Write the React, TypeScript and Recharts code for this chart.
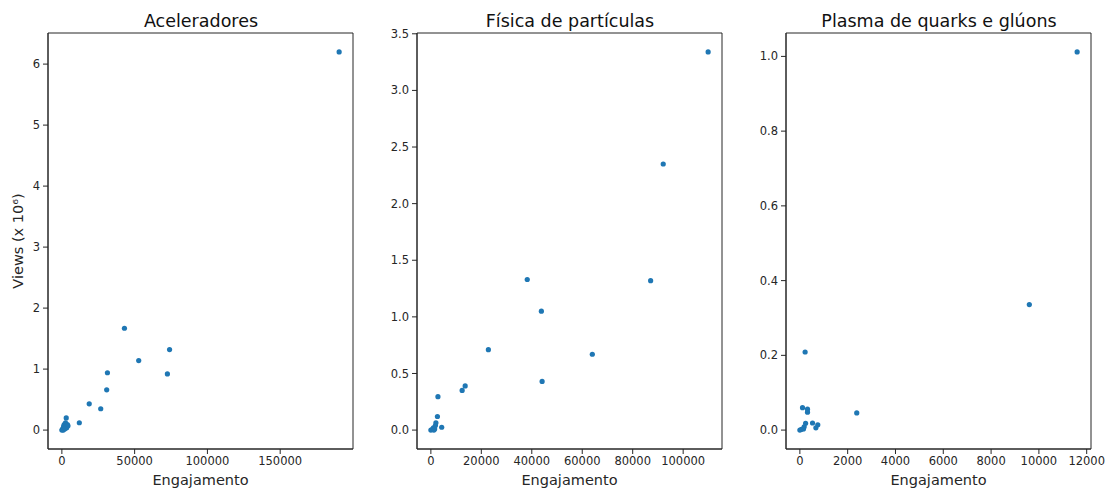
import React from "react";
import { ScatterChart, Scatter, XAxis, YAxis, ReferenceArea } from "recharts";

// Aceleradores
const acelEngajamento = [190500, 43000, 74000, 52800, 72500, 31300, 30800, 18800, 26700, 12000, 3000, 0, 400, 800, 1200, 1600, 2000, 2500, 2800, 3300, 3800, 4200, 1000, 2200];
const acelViews = [6.2, 1.67, 1.32, 1.14, 0.92, 0.94, 0.66, 0.43, 0.35, 0.12, 0.2, 0.0, 0.01, 0.03, 0.06, 0.09, 0.05, 0.12, 0.07, 0.04, 0.09, 0.07, 0.0, 0.02];

// Física de partículas
const fisEngajamento = [109900, 92100, 38200, 87100, 43800, 22800, 64000, 44100, 13600, 12400, 2800, 2600, 4300, 2000, 0, 500, 1000, 1500, 1800, 1200];
const fisViews = [3.34, 2.35, 1.33, 1.32, 1.05, 0.71, 0.67, 0.43, 0.39, 0.35, 0.295, 0.12, 0.025, 0.065, 0.0, 0.005, 0.02, 0.01, 0.04, 0.0];

// Plasma de quarks e glúons
const plasEngajamento = [11600, 9600, 220, 2380, 110, 320, 320, 530, 750, 670, 240, 180, 70, 0, 150];
const plasViews = [1.012, 0.336, 0.209, 0.046, 0.06, 0.056, 0.048, 0.019, 0.014, 0.006, 0.018, 0.009, 0.002, 0.0, 0.003];

const titles = ["Aceleradores", "Física de partículas", "Plasma de quarks e glúons"];
const xTicks1 = [0, 50000, 100000, 150000];
const xTicks2 = [0, 20000, 40000, 60000, 80000, 100000];
const xTicks3 = [0, 2000, 4000, 6000, 8000, 10000, 12000];
const yTicks1 = [0, 1, 2, 3, 4, 5, 6];
const yTicks2 = [0, 0.5, 1, 1.5, 2, 2.5, 3, 3.5];
const yTicks3 = [0, 0.2, 0.4, 0.6, 0.8, 1.0];

const FONT = "DejaVu Sans, Verdana, sans-serif";
const COLOR = "#1f77b4";
const AX = "#262626";

function build(xs: number[], ys: number[]) {
  return xs.map((x, i) => ({ x, y: ys[i] }));
}

function margin(min: number, max: number) {
  const m = (max - min) * 0.05;
  return [min - m, max + m] as [number, number];
}

const Dot = (p: any) => <circle cx={p.cx} cy={p.cy} r={2.6} fill={COLOR} />;

type PanelProps = {
  left: number;
  xs: number[];
  ys: number[];
  xTicks: number[];
  yTicks: number[];
  yDec: number;
  yLabel?: boolean;
};

function Panel({ left, xs, ys, xTicks, yTicks, yDec, yLabel }: PanelProps) {
  const data = build(xs, ys);
  const xd = margin(Math.min(...xs), Math.max(...xs));
  const yd = margin(Math.min(...ys), Math.max(...ys));
  const tickStyle = { fill: AX, fontSize: 11.5, fontFamily: FONT };
  return (
    <div style={{ position: "absolute", left, top: 0 }}>
      <ScatterChart width={370} height={491} margin={{ top: 33, right: 17, bottom: 0, left: 8 }}>
        <XAxis
          type="number"
          dataKey="x"
          domain={xd}
          ticks={xTicks}
          allowDataOverflow
          height={42}
          tickSize={5}
          tickMargin={3}
          stroke={AX}
          tick={tickStyle}
          tickLine={{ stroke: AX }}
          axisLine={{ stroke: AX }}
          interval={0}
          label={{ value: "Engajamento", position: "insideBottom", offset: 6, fill: AX, fontSize: 14.5, fontFamily: FONT }}
        />
        <YAxis
          type="number"
          dataKey="y"
          domain={yd}
          ticks={yTicks}
          allowDataOverflow
          width={40}
          tickSize={5}
          tickMargin={3}
          stroke={AX}
          tick={tickStyle}
          tickLine={{ stroke: AX }}
          axisLine={{ stroke: AX }}
          interval={0}
          tickFormatter={(v: number) => v.toFixed(yDec)}
          label={
            yLabel
              ? (props: any) => {
                  const vb = props.viewBox || {};
                  const cx = 18;
                  const cy = (vb.y ?? 33) + (vb.height ?? 416) / 2;
                  return (
                    <text
                      x={cx}
                      y={cy}
                      transform={`rotate(-90, ${cx}, ${cy})`}
                      textAnchor="middle"
                      dominantBaseline="central"
                      fill={AX}
                      fontSize={14.5}
                      fontFamily={FONT}
                    >
                      Views (x 10⁶)
                    </text>
                  );
                }
              : undefined
          }
        />
        <ReferenceArea
          x1={xd[0]}
          x2={xd[1]}
          y1={yd[0]}
          y2={yd[1]}
          fill="none"
          stroke={AX}
          strokeWidth={1}
          ifOverflow="visible"
        />
        <Scatter data={data} isAnimationActive={false} shape={Dot} />
      </ScatterChart>
    </div>
  );
}

export default function App() {
  const plotW = 306;
  const lefts = [48, 417, 786];
  return (
    <div style={{ position: "absolute", left: 0, top: 0, width: 1110, height: 491, background: "#fff" }}>
      <Panel left={0} xs={acelEngajamento} ys={acelViews} xTicks={xTicks1} yTicks={yTicks1} yDec={0} yLabel />
      <Panel left={369} xs={fisEngajamento} ys={fisViews} xTicks={xTicks2} yTicks={yTicks2} yDec={1} />
      <Panel left={738} xs={plasEngajamento} ys={plasViews} xTicks={xTicks3} yTicks={yTicks3} yDec={1} />
      <svg width={1110} height={40} style={{ position: "absolute", left: 0, top: 0 }}>
        {titles.map((t, i) => (
          <text
            key={t}
            x={lefts[i] + plotW / 2}
            y={26.5}
            textAnchor="middle"
            fill="#111"
            fontSize={17.5}
            fontFamily={FONT}
          >
            {t}
          </text>
        ))}
      </svg>
    </div>
  );
}
